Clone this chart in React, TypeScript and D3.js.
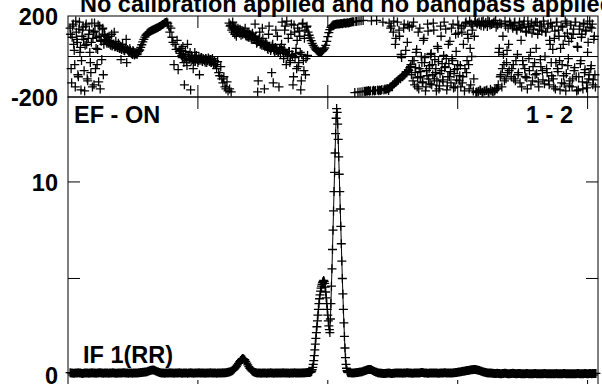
import * as d3 from 'd3';

// axis ticks
const chanTicks = [250, 500, 750, 1000];
const ampTicks = [0, 5, 10];
const ampTickLabels = ['0', '', '10'];
const phaseTickLabels = ['200', '-200'];
const titleText = 'No calibration applied and no bandpass applied';

// amplitude, baseline left of the line (every 2 channels from ch 4)
const ampLowStart = 4;
const ampLow = [
  0.12, 0.11, 0.1, 0.09, 0.09, 0.11, 0.1, 0.1, 0.12, 0.11,
  0.1, 0.09, 0.08, 0.09, 0.1, 0.11, 0.11, 0.1, 0.09, 0.1,
  0.1, 0.12, 0.11, 0.1, 0.1, 0.09, 0.1, 0.11, 0.12, 0.12,
  0.11, 0.1, 0.09, 0.1, 0.1, 0.11, 0.1, 0.09, 0.1, 0.1,
  0.11, 0.12, 0.1, 0.1, 0.09, 0.09, 0.1, 0.11, 0.1, 0.1,
  0.1, 0.12, 0.12, 0.11, 0.1, 0.1, 0.09, 0.1, 0.11, 0.1,
  0.09, 0.1, 0.1, 0.11, 0.11, 0.1, 0.12, 0.12, 0.13, 0.13,
  0.14, 0.14, 0.15, 0.16,
  0.17, 0.19, 0.21, 0.23, 0.25, 0.26, 0.26, 0.25, 0.22, 0.2, 0.17, 0.15, 0.13, 0.12,
  0.11, 0.1, 0.1, 0.09, 0.1, 0.11, 0.1, 0.1, 0.12, 0.11,
  0.1, 0.1, 0.09, 0.1, 0.11, 0.1, 0.1, 0.12, 0.11, 0.1,
  0.09, 0.1, 0.1, 0.11, 0.1, 0.09, 0.1, 0.11, 0.12, 0.1,
  0.1, 0.09, 0.1, 0.11, 0.1, 0.1, 0.12, 0.11, 0.1, 0.1,
  0.11, 0.1, 0.09, 0.1, 0.11, 0.1, 0.1, 0.12, 0.11, 0.1,
  0.1, 0.11, 0.1, 0.09, 0.1, 0.11, 0.1, 0.1, 0.11, 0.12,
  0.11, 0.12, 0.12, 0.13,
  0.14, 0.15, 0.17, 0.19, 0.22, 0.26, 0.31, 0.37, 0.44, 0.52,
  0.6, 0.68, 0.75, 0.81, 0.85, 0.84, 0.79, 0.71, 0.62, 0.52,
  0.43, 0.35, 0.28, 0.22, 0.18, 0.15, 0.13, 0.12, 0.11, 0.1,
  0.1, 0.1, 0.09, 0.1, 0.11, 0.1, 0.1, 0.09, 0.1, 0.11,
  0.1, 0.12, 0.11, 0.1, 0.09, 0.1, 0.1, 0.11, 0.1, 0.1,
  0.11, 0.1, 0.11, 0.12, 0.11, 0.1, 0.1, 0.11, 0.1, 0.09,
  0.1, 0.11, 0.1, 0.1, 0.12, 0.11, 0.1, 0.1, 0.11, 0.1,
  0.11, 0.11, 0.12, 0.11, 0.12, 0.12, 0.13, 0.13, 0.13,
];

// amplitude across the line, every channel from ch 465
const ampPeakStart = 465;
const ampPeak = [
  0.13, 0.14, 0.15, 0.17, 0.2, 0.28, 0.4, 0.55, 0.75, 1.0,
  1.3, 1.6, 1.9, 2.2, 2.5, 2.8, 3.1, 3.4, 3.7, 3.95,
  4.15, 4.35, 4.5, 4.6, 4.7, 4.8, 4.85, 4.9, 4.85, 4.75,
  4.55, 4.3, 4.0, 3.7, 3.4, 3.1, 2.8, 2.55, 2.35, 2.2,
  2.9, 3.7, 4.6, 5.5, 6.5, 7.5, 8.5, 9.5, 10.5, 11.5,
  12.5, 13.3, 13.8, 13.6, 13.0, 12.2, 11.3, 10.4, 9.5, 8.6,
  7.7, 6.8, 5.9, 5.0, 4.2, 3.4, 2.7, 2.0, 1.4, 0.9,
  0.55, 0.35, 0.22, 0.16, 0.13, 0.12, 0.12,
];

// amplitude, baseline right of the line (every 2 channels from ch 542)
const ampHighStart = 542;
const ampHigh = [
  0.12, 0.12, 0.11, 0.11, 0.11, 0.12, 0.12, 0.13, 0.13, 0.14,
  0.15, 0.16, 0.17, 0.19, 0.21, 0.23, 0.25, 0.27, 0.28, 0.29,
  0.28, 0.27, 0.24, 0.21, 0.18, 0.16, 0.14, 0.12, 0.11, 0.1,
  0.09, 0.09, 0.08, 0.08, 0.08, 0.09, 0.09, 0.1, 0.1, 0.09,
  0.08, 0.08, 0.09, 0.09, 0.1, 0.1, 0.1, 0.11, 0.11, 0.1,
  0.1, 0.09, 0.1, 0.1, 0.11, 0.12, 0.12, 0.11, 0.1, 0.1,
  0.09, 0.09, 0.1, 0.11, 0.11, 0.1, 0.1, 0.11, 0.12, 0.13,
  0.13, 0.12, 0.11, 0.1, 0.1, 0.09, 0.09, 0.1, 0.1, 0.1,
  0.11, 0.11, 0.1, 0.1, 0.1, 0.09, 0.09, 0.1, 0.1, 0.11,
  0.11, 0.12, 0.12, 0.11, 0.11, 0.1, 0.1, 0.1, 0.11, 0.11,
  0.12, 0.12, 0.13, 0.13, 0.14, 0.15, 0.16, 0.17, 0.18, 0.19,
  0.2, 0.21, 0.22, 0.23, 0.24, 0.25, 0.26, 0.27,
  0.27, 0.28, 0.28, 0.28, 0.27, 0.26, 0.25, 0.23, 0.21, 0.19,
  0.17, 0.15, 0.14, 0.13, 0.12, 0.11, 0.11, 0.1,
  0.1, 0.09, 0.09, 0.08, 0.08, 0.08, 0.09, 0.08, 0.08, 0.07,
  0.07, 0.08, 0.08, 0.09, 0.09, 0.08, 0.07, 0.07, 0.07, 0.08,
  0.08, 0.09, 0.08, 0.08, 0.07, 0.07, 0.08, 0.08, 0.08, 0.07,
  0.06, 0.06, 0.07, 0.07, 0.08, 0.08, 0.07, 0.07, 0.06, 0.06,
  0.07, 0.07, 0.08, 0.08, 0.07, 0.07, 0.06, 0.06, 0.07, 0.07,
  0.07, 0.08, 0.08, 0.07, 0.07, 0.06, 0.06, 0.07, 0.07, 0.06,
  0.06, 0.07, 0.07, 0.08, 0.07, 0.07, 0.06, 0.06, 0.07, 0.07,
  0.08, 0.08, 0.07, 0.07, 0.06, 0.06, 0.07, 0.07, 0.07, 0.06,
  0.06, 0.07, 0.07, 0.08, 0.08, 0.07, 0.07, 0.06, 0.07, 0.07,
  0.08, 0.08, 0.07, 0.07, 0.07, 0.08, 0.08, 0.07, 0.08, 0.08,
  0.08, 0.08,
];

// phase (degrees) on even channels, one run per stretch of the band
const phaseEdge = [140, -60, 95, 160, 30, -150, 120, 70, -100, 170, 45, -20, 130, 85, -170, 150, 60, -120, 110, 20, -80, 165, 90, -140, 125, 40, -40, 155, 100, -160, 75, 135, -90, 110];
const phaseBand = [80, 72, 95, 65, 70, 55, 110, 60, 62, 48, 75, 52, 45, 58, 40, -15, 48, 38, 30, 42, 85, 35, 28, 20, 30, 15, 10, 25, 8, 12, 18];
const phaseRise = [18, 25, 32, 45, 58, 72, 85, 96, 105, 112, 117, 121, 124, 127, 130, 132, 135, 137, 140, 142, 145, 148, 151, 154, 158, 161, 165, 168, 170];
const phaseDrop = [165, 150, 120, 140, 95, 70, -40, 60, 35, 80, -65, 25];
const phaseFlat = [15, 40, -5, 10, -140, 25, -20, 60, 0, -10, -165, 5, -15, -25, 20, -8, -12, -30, 0, -18, -5, -22, -10, -15, -28, -12, -20, -8, -25, -15, -30, -10, -35, -20];
const phaseFall = [-40, -60, -25, -80, -95, -50, -110, -130, -100, -150, -160, -125, -170];
const phaseWrap = [165, 150, -175, 140, 120, 145, 135, 100, 130, 125, 115, 130, 120, 110, 125, 118, 105, 112, 100, 115, 95, 108, 90, 102];
const phaseMess = [
  95, 160, 80, 70, -120, 88, 60, 75, 140, 55, -160, 65,
  50, 40, 110, 45, 30, -80, 60, 35, 25, 130, 40, 20, -150, 30, 45,
  170, 20, 35, 150, -40, 10, 90, 25, -20, 160, 5, -100, 120, 15, -60,
  140, -30, 100, -165, 10, 165, -70, 130, -10, 150,
];
const phaseDip = [120, 105, 92, 78, 65, 55, 46, 38, 32, 27, 24, 22, 22, 24, 28, 34, 42, 55, 75, 98, 118, 133, 144, 151, 155, 157, 158];
const phaseTop = [159, 160, 161, 160, 162, 163, 162, 164, 165, 164, 166, 167, 166, 168];
const phaseTurn = [169, 170, 171, 172, -178, 173, 174, -176, 175, -175, 177, -174, 178, -172];
const phaseLow = [-173, -170, -172, -168, -171, -169, 176, -170, -167, -170, -168, 178, -166, -169, -165, -168, -163, 170, -166, -160, -164, -158];
const phaseClimb = [-160, 165, -150, 150, -145, 120, -135, 60, -125, 170, -115, 100, -110, -5, -100, 140, -90, 30, -80, 155, -70, -55];
const phaseNoiseA = [-40, 150, -120, -20, -80, 20, -150, 120, -60, -100, 0, -130, 80, -30, -170, -70, 160, -110, -45, 10, -140, -90, 130, -15, -60, -120, 40, -160, -85, 100, -35, -125, 170, -50, -10, -145, 60, -100, -75, 140, -20, -155, -65, 110, -115, -40, 155, -95];
const phaseOvalL = [-150, 120, -100, 150, -60, 170, -20, 90, -160, 40, 160, 130, -170, 100, 175, -175];
const phaseOvalM = [165, -172, 158, -168, 172, -176, 150, -170, 168, -165, 176, -178, 155, -169, 162, -174, 170, -166, 145, -160];
const phaseOvalR = [-140, 40, -100, 160, -60, 10, -120, 150, -30, -80, 60, 170];
const phaseNoiseB = [160, -60, 140, -110, 170, -20, 130, -90, 155, -130, 80, 145, -40, 175, -100, 120, -160, 150, -70, 20, 165, -120, 135, -30, 170, -85, 110, -150, 150, -50, 125, -115, 160, 0];
const phaseNoiseC = [120, -80, 160, -140, 60, -30, 150, -110, 90, -160, 170, -60, 130, -20, 40, -130, 145, -95, 100, -170, 165, -45, 75, -120, 155, -150, 110, -70, 170, -100, 50, -165, 135, -35, 95, -125, 160, -80, 125, -155, 20, -110, 175, -60, 140, -140, 85, -90];

// phase on odd channels in the noisy stretches
const phaseEdgeOdd = [110, -130, 150, 60, -40, 175, 85, -90, 135, 20, -165, 100, 145, -70, 55, 160, -110, 90, 130, -30, 70, -150, 120, 165, -60, 95, 35, -125, 150, 80, -15, 140, 60, 105];
const phaseBandOdd = [85, 65, 78, 100, 60, 68, 52, 58, 120, 50, 55, 45, 65, 40, 50, 35, 60, 42, 28, 38, -30, 32, 25, 40, 22, 18, 30, 12, 20, 15, 10];
const phaseFlatOdd = [30, 5, 50, -30, -10, 10, -45, 0, -15, 20, -20, -5, -60, -10, -25, 5, -15, -20, -90, -12, -5, -25, -15, -20, -10, -30, -18, -12, -22, -30, -15, -25, -40, -28];
const phaseWrapOdd = [-160, 155, 130, 170, 140, 110, 150, 125, 140, 118, 135, 105, 128, 122, 112, 140, 100, 120, 95, 110, 105, 85, 115, 98];
const phaseMessOdd = [
  85, 100, 65, -175, 78, 120, 70, 55, 90, 62, 48, 70,
  58, 35, 150, 42, 38, 52, -130, 28, 45, 30, 100, 22, 35, 15, 60,
  30, -10, 130, 18, 175, 0, 25, -30, 110, 10, -140, 155, -5, 40, 80,
  -50, 125, 20, -120, 160, -20, 90, -90, 145, 5,
];
const phaseClimbOdd = [-168, -155, 140, -148, -140, 175, -130, 90, -122, -118, 130, -108, 10, -98, -95, 160, -85, -75, 70, -65, 145, -50];
const phaseNoiseAOdd = [-90, -20, 170, -140, -55, 35, -105, -160, 140, -75, -30, -125, 90, -5, -150, -95, 125, -60, -135, 15, -40, 165, -110, -80, -170, 50, -25, -145, 150, -70, -115, 5, -55, 135, -165, -100, -35, 75, -130, -10, 160, -85, -150, 25, -60, 115, -120, -45];
const phaseOvalLOdd = [140, -130, 60, -170, 165, -80, 110, -40, 175, -140, 0, 150, -110, 170, -178, 160];
const phaseOvalMOdd = [-175, 170, -165, 152, -178, 175, -170, 160, -168, 148, -176, 172, -162, 158, -172, 166, -170, 178, -158, 155];
const phaseOvalROdd = [20, 165, -90, -150, 100, -40, 175, -110, 30, 140, -70, 155];
const phaseNoiseBOdd = [-100, 150, -40, 165, -120, 135, 10, -80, 170, 140, -150, -20, 160, -60, 125, -105, 175, -10, 145, -140, 115, -50, 155, -90, 40, 168, -125, 130, -15, 150, -70, 175, -135, 120];
const phaseNoiseCOdd = [-60, 140, -120, 80, 165, -95, 35, -150, 125, -30, 170, -75, 100, -165, 150, -40, 60, -135, 175, -85, 115, -10, -145, 155, 90, -110, 135, -55, 170, -170, 45, -100, 150, -20, 110, -160, 165, -65, 130, -130, 70, -90, 145, -45, 160, -115, 100, -150];

const phaseRuns = [
  phaseEdge, phaseBand, phaseRise, phaseDrop, phaseFlat, phaseFall, phaseWrap, phaseMess, phaseDip, phaseTop,
  phaseTurn, phaseLow, phaseClimb, phaseNoiseA, phaseOvalL, phaseOvalM, phaseOvalR, phaseNoiseB, phaseNoiseC,
  phaseEdgeOdd, phaseBandOdd, phaseFlatOdd, phaseWrapOdd, phaseMessOdd, phaseClimbOdd, phaseNoiseAOdd,
  phaseOvalLOdd, phaseOvalMOdd, phaseOvalROdd, phaseNoiseBOdd, phaseNoiseCOdd,
];
const phaseStarts = [
  4, 72, 134, 192, 216, 284, 310, 358, 462, 516,
  544, 572, 616, 660, 756, 788, 828, 852, 920,
  5, 73, 217, 311, 359, 617, 661,
  757, 789, 829, 853, 921,
];

type Pt = [number, number];

const run = (start: number, step: number, vals: number[]): Pt[] =>
  vals.map((v, i) => [start + i * step, v] as Pt);

const W = 602;
const H = 384;
const left = 68;
const right = 598;
const phTop = 16;
const phBot = 97;
const ampTop = 97;
const ampBot = 392;
const tickLen = 12;
const arm = 4.5;
const font = "'Liberation Sans', Arial, Helvetica, sans-serif";

export default function App() {
  const x = d3.scaleLinear().domain([0, 1020]).range([left, right]);
  const yPh = d3.scaleLinear().domain([-200, 200]).range([phBot, phTop]);
  const yAmp = d3.scaleLinear().domain([-0.88, 14.4]).range([ampBot, ampTop]);

  const ampPts: Pt[] = [
    ...run(ampLowStart, 2, ampLow),
    ...run(ampPeakStart, 1, ampPeak),
    ...run(ampHighStart, 2, ampHigh),
  ];
  const phPts: Pt[] = phaseRuns.flatMap((r, i) => run(phaseStarts[i], 2, r));

  const plus = (pts: Pt[], ys: d3.ScaleLinear<number, number>) =>
    pts
      .map(([c, v]) => {
        const px = x(c);
        const py = ys(v);
        return `M${px - arm},${py}h${2 * arm}M${px},${py - arm}v${2 * arm}`;
      })
      .join('');

  const ampLine = d3
    .line<Pt>()
    .x((d) => x(d[0]))
    .y((d) => yAmp(d[1]))(ampPts) as string;

  const txt = { fontFamily: font, fontWeight: 'bold' as const, fontSize: 23.5 };

  return (
    <svg width={W} height={H} style={{ position: 'absolute', left: 0, top: 0, background: '#fff' }}>
      <rect width={W} height={H} fill="#fff" />
      <text x={80} y={12} {...txt}>{titleText}</text>

      {/* phase panel */}
      <g stroke="#000" strokeWidth={1} fill="none">
        <rect x={left} y={phTop} width={right - left} height={phBot - phTop} />
        <line x1={left} x2={right} y1={yPh(0)} y2={yPh(0)} />
        {chanTicks.map((t) => (
          <g key={t}>
            <line x1={x(t)} x2={x(t)} y1={phTop} y2={phTop + tickLen} />
            <line x1={x(t)} x2={x(t)} y1={phBot} y2={phBot - tickLen} />
          </g>
        ))}
      </g>
      <path d={plus(phPts, yPh)} stroke="#000" strokeWidth={1.3} fill="none" />
      {[200, -200].map((t, i) => (
        <text key={t} x={58} y={yPh(t) + 1} textAnchor="end" dominantBaseline="central" {...txt}>
          {phaseTickLabels[i]}
        </text>
      ))}

      {/* amplitude panel */}
      <g stroke="#000" strokeWidth={1} fill="none">
        <rect x={left} y={ampTop} width={right - left} height={ampBot - ampTop} />
        {chanTicks.map((t) => (
          <g key={t}>
            <line x1={x(t)} x2={x(t)} y1={ampTop} y2={ampTop + tickLen} />
            <line x1={x(t)} x2={x(t)} y1={ampBot} y2={ampBot - tickLen} />
          </g>
        ))}
        {ampTicks.map((t) => (
          <g key={t}>
            <line x1={left} x2={left + tickLen} y1={yAmp(t)} y2={yAmp(t)} />
            <line x1={right} x2={right - tickLen} y1={yAmp(t)} y2={yAmp(t)} />
          </g>
        ))}
      </g>
      <path d={ampLine} stroke="#000" strokeWidth={1} fill="none" />
      <path d={plus(ampPts, yAmp)} stroke="#000" strokeWidth={1.3} fill="none" />
      {ampTicks.map((t, i) => (
        <text key={t} x={58} y={yAmp(t) + 1} textAnchor="end" dominantBaseline="central" {...txt}>
          {ampTickLabels[i]}
        </text>
      ))}

      <text x={74} y={123} {...txt}>EF - ON</text>
      <text x={573} y={123} textAnchor="end" {...txt}>1 - 2</text>
      <text x={83} y={363} {...txt}>IF 1(RR)</text>
    </svg>
  );
}
